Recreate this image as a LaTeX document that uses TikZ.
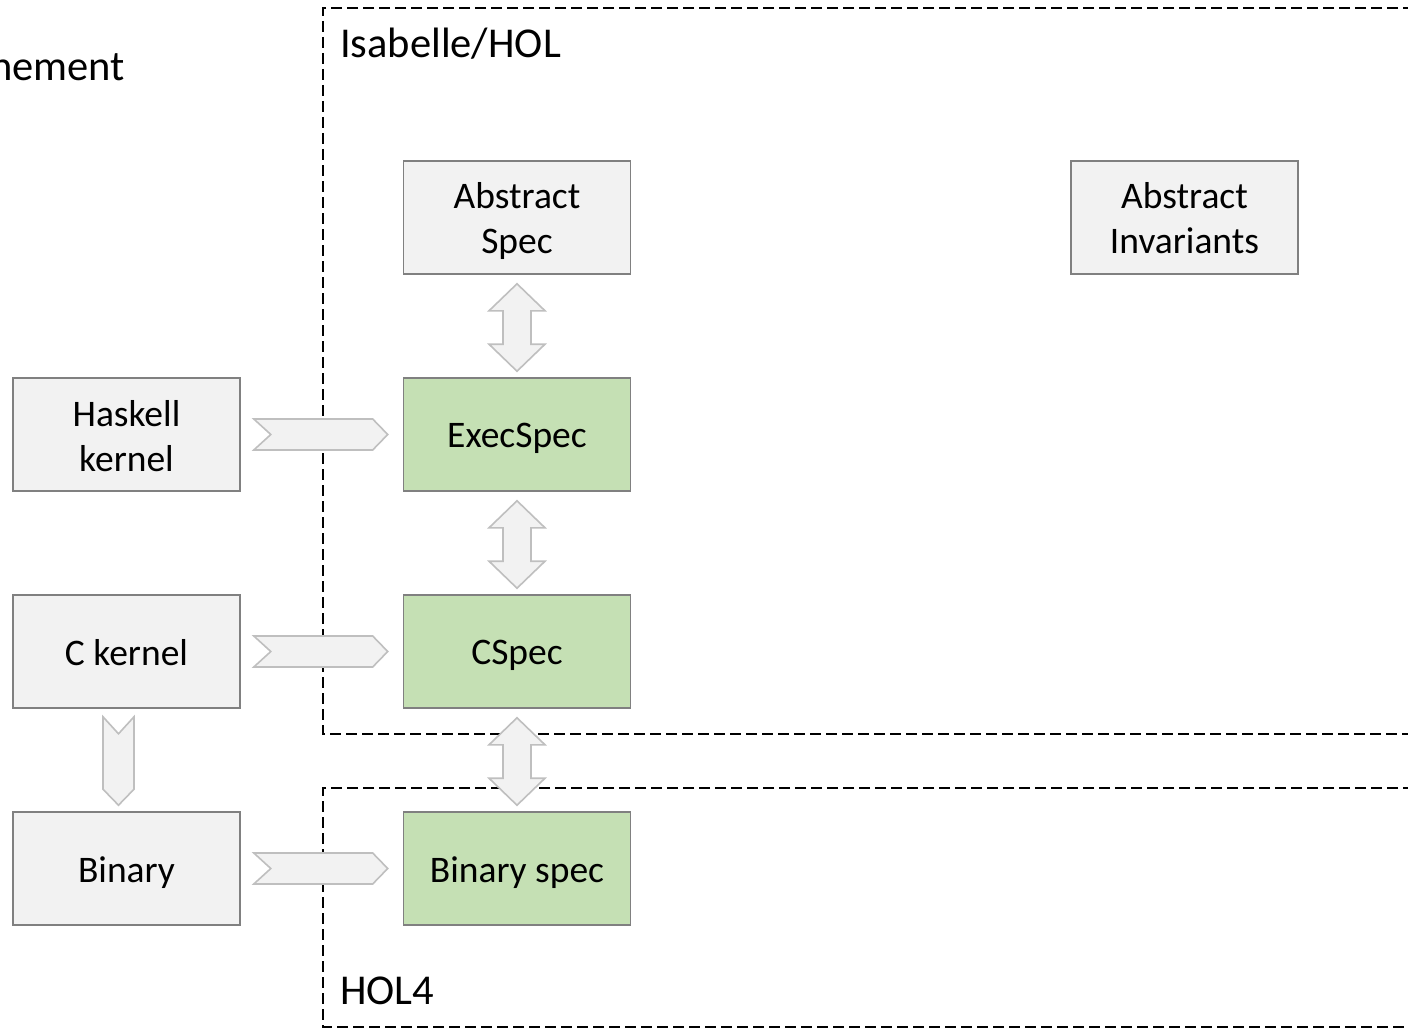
\documentclass[tikz,border=0pt]{standalone}
\usepackage{fontspec}
\setmainfont{Carlito}
\usetikzlibrary{calc}
\tikzset{
  box/.style={draw=boxgray, line width=1.6pt, fill=boxfill, minimum width=227pt, minimum height=113pt, inner sep=0pt},
  spec/.style={box, fill=specgreen},
  boxtext/.style={inner sep=0pt, align=center, yshift=-4pt, font=\fontsize{37.5}{45}\selectfont, execute at end node={\vphantom{p}}},
  region/.style={draw=black, line width=1.4pt, dash pattern=on 11pt off 5pt},
  blk/.style={draw=arrgray, fill=boxfill, line width=1.6pt, line join=miter},
  lbl/.style={inner sep=0pt, font=\fontsize{42.5}{50}\selectfont}
}
\definecolor{boxgray}{HTML}{808080}
\definecolor{boxfill}{HTML}{F2F2F2}
\definecolor{specgreen}{HTML}{C5E0B4}
\definecolor{arrgray}{HTML}{BFBFBF}
\newcommand\rchev[2]{%
  \path[blk] let \p1=($(#1.east)+(13pt,0)$), \p2=($(#2.west)+(-15pt,0)$) in
    (\x1,\y1+15.5pt) -- (\x2-15pt,\y1+15.5pt) -- (\x2,\y1) -- (\x2-15pt,\y1-15.5pt)
    -- (\x1,\y1-15.5pt) -- (\x1+17pt,\y1) -- cycle;}
\newcommand\dblarr[2]{%
  \path[blk] let \p1=($(#1.south)+(0,9)$), \p2=($(#2.north)+(0,-6)$) in
    (\x1,\y1) -- (\x1+28pt,\y1-27pt) -- (\x1+14pt,\y1-27pt) -- (\x1+14pt,\y2+27pt)
    -- (\x1+28pt,\y2+27pt) -- (\x1,\y2) -- (\x1-28pt,\y2+27pt) -- (\x1-14pt,\y2+27pt)
    -- (\x1-14pt,\y1-27pt) -- (\x1-28pt,\y1-27pt) -- cycle;}
\begin{document}
\begin{tikzpicture}[x=1pt,y=-1pt]
\coordinate (bbA) at (0,0);
\coordinate (bbB) at (1408,1030);
\useasboundingbox (bbA) rectangle (bbB);
\clip (bbA) rectangle (bbB);
\fill[white] (bbA) rectangle (bbB);

% regions
\coordinate (isaTL) at (323,8);
\coordinate (isaBL) at (323,734);
\coordinate (holTL) at (323,788);
\coordinate (holBL) at (323,1027);
\draw[region] (1430,8) -- (isaTL) -- (isaBL) -- (1430,734);
\draw[region] (1430,788) -- (holTL) -- (holBL) -- (1430,1027);
\node[lbl, anchor=west] (isalbl) at (340,44) {Isabelle/HOL};
\node[lbl, anchor=west] (hollbl) at (340,991) {HOL4};
\node[lbl, anchor=east] (refine) at (125,66) {Refinement};

% boxes
\node[box,  label={[boxtext]center:{Abstract\\Spec}}]        (as) at (517,217.5) {};
\node[box,  label={[boxtext]center:{Abstract\\Invariants}}]  (ai) at (1184.5,217.5) {};
\node[box,  label={[boxtext]center:{Haskell\\kernel}}]       (hk) at (126.5,434.5) {};
\node[spec, label={[boxtext]center:{ExecSpec}}]              (ex) at (517,434.5) {};
\node[box,  label={[boxtext]center:{C kernel}}]              (ck) at (126.5,651.5) {};
\node[spec, label={[boxtext]center:{CSpec}}]                 (cs) at (517,651.5) {};
\node[box,  label={[boxtext]center:{Binary}}]                (bi) at (126.5,868.5) {};
\node[spec, label={[boxtext]center:{Binary spec}}]           (bs) at (517,868.5) {};

% arrows
\rchev{hk}{ex}
\rchev{ck}{cs}
\rchev{bi}{bs}
\dblarr{as}{ex}
\dblarr{ex}{cs}
\dblarr{cs}{bs}
\path[blk] let \p1=($(ck.south)+(-8,8)$), \p2=($(bi.north)+(-8,-6)$) in
  (\x1-15.5pt,\y1) -- (\x1,\y1-17pt) -- (\x1+15.5pt,\y1) -- (\x1+15.5pt,\y2+16pt)
  -- (\x1,\y2) -- (\x1-15.5pt,\y2+16pt) -- cycle;
\end{tikzpicture}
\end{document}
